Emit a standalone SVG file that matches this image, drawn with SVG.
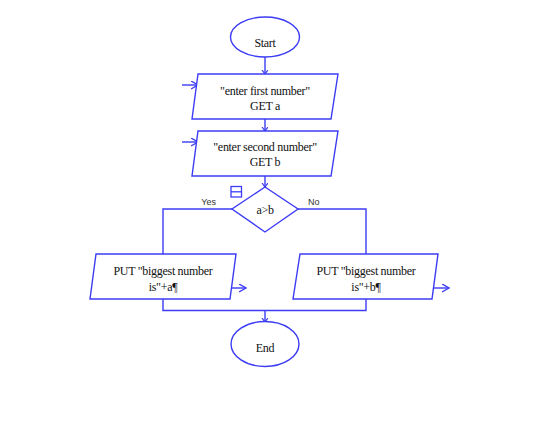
<svg xmlns="http://www.w3.org/2000/svg" width="537" height="427" viewBox="0 0 537 427">
<defs>
<style>
.s{fill:#fff;stroke:#3c3cf5;stroke-width:1.4}
.c{fill:none;stroke:#3c3cf5;stroke-width:1.4}
.t{font-family:"Liberation Serif",serif;font-size:12px;fill:#111;text-anchor:middle;letter-spacing:-0.3px}
.l{font-family:"Liberation Sans",sans-serif;font-size:9px;fill:#333}
</style>
<marker id="a" markerWidth="10" markerHeight="10" refX="7" refY="4" orient="auto" markerUnits="userSpaceOnUse">
<path d="M0,0 L7,4 L0,8" fill="none" stroke="#3c3cf5" stroke-width="1.4"/>
</marker>
<marker id="b" markerWidth="8" markerHeight="8" refX="4" refY="3" orient="auto" markerUnits="userSpaceOnUse">
<path d="M0,0 L4,3 L0,6" fill="none" stroke="#3c3cf5" stroke-width="1.2"/>
</marker>
</defs>
<rect width="537" height="427" fill="#fff"/>
<g id="connectors">
<line class="c" x1="265" y1="57" x2="265" y2="74" marker-end="url(#b)"/>
<line class="c" x1="265" y1="119" x2="265" y2="131" marker-end="url(#b)"/>
<line class="c" x1="265" y1="176" x2="265" y2="187" marker-end="url(#b)"/>
<polyline class="c" points="232,209 163,209 163,254"/>
<polyline class="c" points="298,209 366,209 366,254"/>
<polyline class="c" points="163,299 163,310.5 366,310.5 366,299"/>
<line class="c" x1="265" y1="310.5" x2="265" y2="322" marker-end="url(#b)"/>
<line class="c" x1="182" y1="85" x2="198" y2="85" marker-end="url(#a)"/>
<line class="c" x1="182" y1="142" x2="198" y2="142" marker-end="url(#a)"/>
<line class="c" x1="232" y1="288" x2="246" y2="288" marker-end="url(#a)"/>
<line class="c" x1="434" y1="288" x2="449" y2="288" marker-end="url(#a)"/>
<text class="l" x="216" y="205" text-anchor="end">Yes</text>
<text class="l" x="308" y="205">No</text>
</g>
<g id="start">
<ellipse class="s" cx="265" cy="37" rx="34.5" ry="20"/>
<text class="t" x="265" y="47">Start</text>
</g>
<g id="input1">
<polygon class="s" points="198,74 338,74 331,119 192,119"/>
<text class="t" x="265" y="95">"enter first number"</text>
<text class="t" x="265" y="110">GET a</text>
</g>
<g id="input2">
<polygon class="s" points="198,131 338,131 331,176 192,176"/>
<text class="t" x="265" y="151">"enter second number"</text>
<text class="t" x="265" y="166">GET b</text>
</g>
<g id="decision">
<polygon class="s" points="265,187 298,209 265,232 232,209"/>
<text class="t" x="265" y="214">a&gt;b</text>
<rect x="231" y="186.5" width="10.5" height="10.5" fill="none" stroke="#3c3cf5" stroke-width="1.3"/>
<line x1="231" y1="191.8" x2="241.5" y2="191.8" stroke="#3c3cf5" stroke-width="1.3"/>
</g>
<g id="output-a">
<polygon class="s" points="96,254 236,254 230,299 90,299"/>
<text class="t" x="163" y="275">PUT "biggest number</text>
<text class="t" x="163" y="291">is"+a¶</text>
</g>
<g id="output-b">
<polygon class="s" points="300,254 438,254 432,299 293,299"/>
<text class="t" x="366" y="275">PUT "biggest number</text>
<text class="t" x="366" y="291">is"+b¶</text>
</g>
<g id="end">
<ellipse class="s" cx="265" cy="344" rx="34" ry="22.5"/>
<text class="t" x="265" y="352">End</text>
</g>
</svg>
